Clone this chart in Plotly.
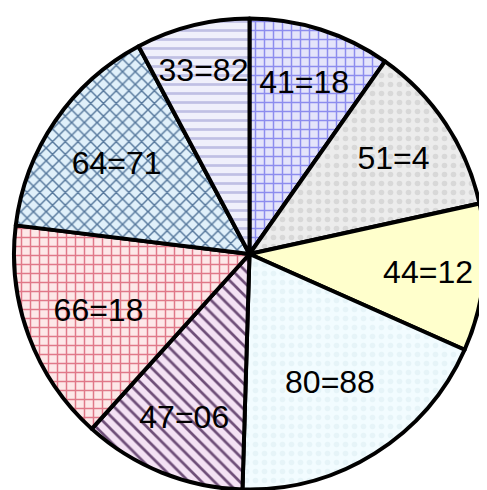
import plotly.graph_objects as go

labels = ["41=18", "51=4", "44=12", "80=88", "47=06", "66=18", "64=71", "33=82"]
values = [9.75, 11.8, 10.1, 18.8, 11.2, 15.25, 15.25, 7.8]
bg_colors = ["#e4e4fa", "#ececec", "#ffffcc", "#f2fcff", "#f4e2f4", "#fde8e8", "#e0f0fa", "#f0f0fb"]
fg_colors = ["#8c8cee", "#d8d8d8", "#ffffcc", "#e6f4f8", "#6e4e78", "#e07888", "#56789c", "#c0c0e4"]
shapes = ["+", ".", "", ".", "\\", "+", "x", "-"]

fig = go.Figure(go.Pie(
    labels=labels,
    values=values,
    text=labels,
    textinfo="text",
    sort=False,
    direction="clockwise",
    rotation=0,
    textposition="inside",
    insidetextorientation="horizontal",
    textfont=dict(family="Liberation Sans, Arial, sans-serif", size=32, color="black"),
    marker=dict(
        colors=bg_colors,
        line=dict(color="black", width=4),
        pattern=dict(shape=shapes, fgcolor=fg_colors, bgcolor=bg_colors, size=9, solidity=0.3),
    ),
    showlegend=False,
    hoverinfo="none",
))
fig.update_layout(
    width=487, height=490,
    margin=dict(l=6, r=10, t=10, b=8),
    paper_bgcolor="white",
    plot_bgcolor="white",
    uniformtext=dict(minsize=32, mode="show"),
)
fig.write_html("out.html")
